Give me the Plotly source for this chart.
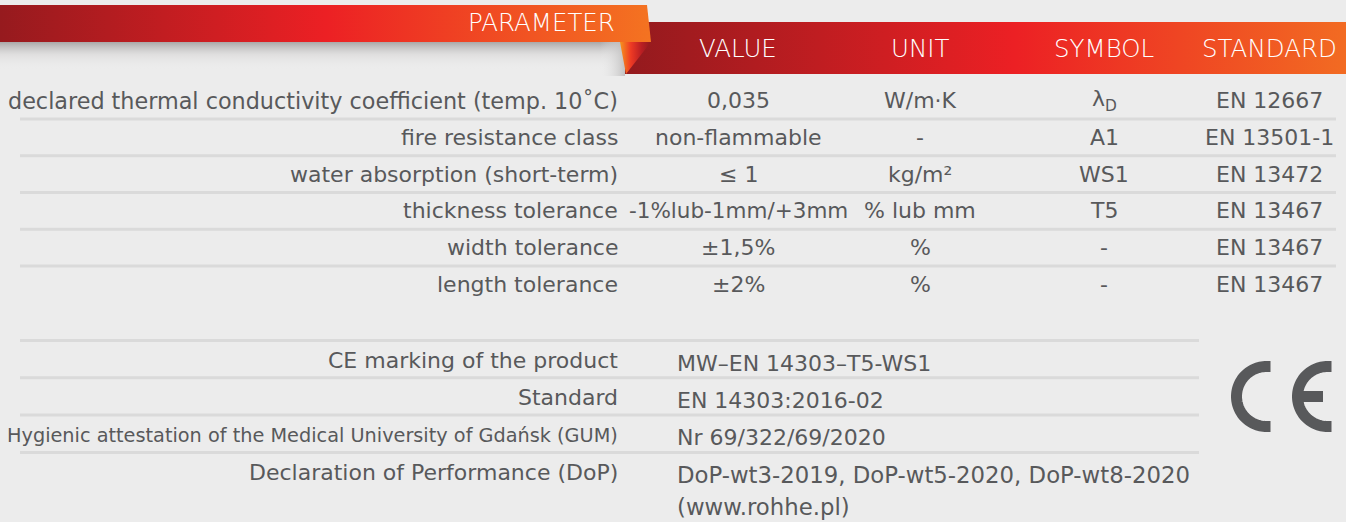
import numpy as np
import plotly.graph_objects as go

# ---------------- data ----------------
headers = ["VALUE", "UNIT", "SYMBOL", "STANDARD"]
params = [
    "declared thermal conductivity coefficient (temp. 10˚C)",
    "fire resistance class",
    "water absorption (short-term)",
    "thickness tolerance",
    "width tolerance",
    "length tolerance",
]
values = ["0,035", "non-flammable", "≤ 1", "-1%lub-1mm/+3mm", "±1,5%", "±2%"]
units = ["W/m·K", "-", "kg/m²", "% lub mm", "%", "%"]
symbols = ["λ<sub>D</sub>", "A1", "WS1", "T5", "-", "-"]
standards = ["EN 12667", "EN 13501-1", "EN 13472", "EN 13467", "EN 13467", "EN 13467"]

info_labels = [
    "CE marking of the product",
    "Standard",
    "Hygienic attestation of the Medical University of Gdańsk (GUM)",
    "Declaration of Performance (DoP)",
]
info_values = [
    "MW–EN 14303–T5-WS1",
    "EN 14303:2016-02",
    "Nr 69/322/69/2020",
    "DoP-wt3-2019, DoP-wt5-2020, DoP-wt8-2020",
]
info_note = "(www.rohhe.pl)"

# ---------------- style / layout ----------------
W, H = 1346, 522
BG = "#ececec"
TXT = "#58595b"
LINE = "#dadada"
FONT = "DejaVu Sans"
HFONT = "DejaVu Sans"

col_x = [738, 920, 1104, 1269]
label_x = 620
row_y0, row_step = 100.5, 36.8
info_y0, info_step = 360.5, 37.3
info_val_x = 675

fig = go.Figure()

# shadow below top banner
fig.add_trace(go.Scatter(
    x=[0, 640, 640, 0], y=[42, 42, 70, 70], fill="toself", mode="none",
    fillgradient=dict(type="vertical", start=42, stop=70,
                      colorscale=[[0, "rgba(170,168,168,1)"], [0.45, "rgba(215,214,214,0.6)"], [1, "rgba(236,236,236,0)"]]),
    hoverinfo="skip", showlegend=False))
# shadow beside fold
fig.add_trace(go.Scatter(
    x=[600, 625, 625, 600], y=[42, 42, 76, 76], fill="toself", mode="none",
    fillgradient=dict(type="horizontal", start=600, stop=625,
                      colorscale=[[0, "rgba(236,236,236,0)"], [1, "rgba(190,189,189,0.9)"]]),
    hoverinfo="skip", showlegend=False))

# second banner (column headers)
fig.add_trace(go.Scatter(
    x=[625, W, W, 625], y=[22, 22, 74, 74], fill="toself", mode="none",
    fillgradient=dict(type="horizontal", start=625, stop=W,
                      colorscale=[[0, "#931a1e"], [0.54, "#ec2024"], [1, "#f26b22"]]),
    hoverinfo="skip", showlegend=False))
# fold
fig.add_trace(go.Scatter(
    x=[620, 651, 626], y=[42, 42, 74], fill="toself", mode="none",
    fillgradient=dict(type="horizontal", start=620, stop=651,
                      colorscale=[[0, "#f7941d"], [0.35, "#ee3a24"], [0.7, "#b81e23"], [1, "#8f1a1e"]]),
    hoverinfo="skip", showlegend=False))
# first banner (PARAMETER)
fig.add_trace(go.Scatter(
    x=[0, 647, 651, 0], y=[5, 5, 42, 42], fill="toself", mode="none",
    fillgradient=dict(type="horizontal", start=0, stop=651,
                      colorscale=[[0, "#961a1e"], [0.5, "#ec2024"], [1, "#f47321"]]),
    hoverinfo="skip", showlegend=False))

shapes = []
# separators in upper table
for i in range(len(params) - 1):
    y = row_y0 + row_step * (i + 0.5)
    shapes.append(dict(type="line", x0=20, x1=1336, y0=y, y1=y, xref="x", yref="y",
                       line=dict(color=LINE, width=3)))
# separators in lower table
for i in range(len(info_labels)):
    y = info_y0 + info_step * i - 20
    shapes.append(dict(type="line", x0=20, x1=1199, y0=y, y1=y, xref="x", yref="y",
                       line=dict(color=LINE, width=3)))

# CE mark
def arc_path(cx, cy, r, ext):
    th = np.linspace(np.pi / 2, 3 * np.pi / 2, 60)
    xs = cx + r * np.cos(th)
    ys = cy - r * np.sin(th)
    pts = [(cx + ext, cy - r)] + list(zip(xs, ys)) + [(cx + ext, cy + r)]
    return "M " + " L ".join(f"{px:.2f},{py:.2f}" for px, py in pts)

ce_cy, ce_r, ce_w = 396.5, 30.0, 11
for cx in (1266.5, 1327.5):
    shapes.append(dict(type="path", path=arc_path(cx, ce_cy, ce_r, 4), xref="x", yref="y",
                       line=dict(color=TXT, width=ce_w)))
shapes.append(dict(type="line", x0=1297, x1=1323, y0=ce_cy, y1=ce_cy, xref="x", yref="y",
                   line=dict(color=TXT, width=ce_w)))

ann = []
def txt(x, y, s, size=22, color=TXT, anchor="center", weight=400, family=FONT):
    ann.append(dict(x=x, y=y, xref="x", yref="y", text=s, showarrow=False,
                    xanchor=anchor, yanchor="middle",
                    font=dict(family=family, size=size, color=color, weight=weight)))

txt(541, 22, "PARAMETER", size=24.5, color="white", weight=200, family=HFONT)
for x, h in zip(col_x, headers):
    txt(x, 48, h, size=24.5, color="white", weight=200, family=HFONT)

for i in range(len(params)):
    y = row_y0 + row_step * i
    txt(label_x, y, params[i], anchor="right", size=22 if i else 22.3)
    txt(col_x[0], y, values[i], size=22 if i != 3 else 21.5)
    txt(col_x[1], y, units[i])
    txt(col_x[2], y, symbols[i])
    txt(col_x[3], y, standards[i])

for i in range(len(info_labels)):
    y = info_y0 + info_step * i
    txt(label_x, y, info_labels[i], anchor="right", size=22 if i != 2 else 19.3)
    txt(info_val_x, y + 2.5, info_values[i], anchor="left", size=22 if i != 3 else 22.8)
txt(info_val_x, info_y0 + info_step * 4 - 3, info_note, anchor="left", size=22.8)

fig.update_layout(
    width=W, height=H, margin=dict(l=0, r=0, t=0, b=0),
    paper_bgcolor=BG, plot_bgcolor=BG,
    xaxis=dict(range=[0, W], visible=False, fixedrange=True),
    yaxis=dict(range=[H, 0], visible=False, fixedrange=True),
    shapes=shapes, annotations=ann, showlegend=False,
)
fig.write_html("out.html", config={"displayModeBar": False},
               post_script="document.body.style.margin='0';")
